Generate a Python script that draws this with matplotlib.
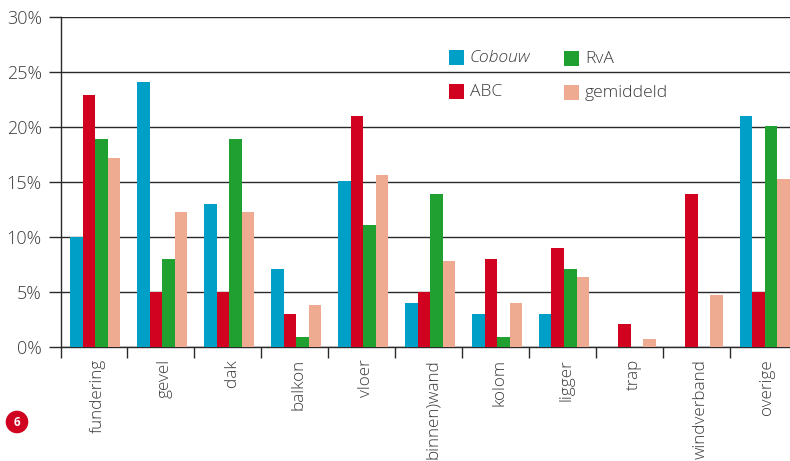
import numpy as np
import matplotlib
matplotlib.use("Agg")
import matplotlib.pyplot as plt
from matplotlib.patches import Circle, Rectangle

plt.rcParams['font.family'] = ['Open Sans', 'DejaVu Sans']

categories = ['fundering', 'gevel', 'dak', 'balkon', 'vloer', 'binnen)wand',
              'kolom', 'ligger', 'trap', 'windverband', 'overige']
cobouw = [10, 24.1, 13, 7.1, 15.1, 4, 3, 3, 0, 0, 21]
abc = [22.9, 5, 5, 3, 21, 5, 8, 9, 2.1, 13.9, 5]
rva = [18.9, 8, 18.9, 0.9, 11.1, 13.9, 0.9, 7.1, 0, 0, 20.1]
gemiddeld = [17.2, 12.3, 12.3, 3.8, 15.6, 7.8, 4, 6.4, 0.7, 4.7, 15.3]
yticks = [0, 5, 10, 15, 20, 25, 30]

series = [cobouw, abc, rva, gemiddeld]
colors = ['#009fc7', '#d0021f', '#20a030', '#efab92']
names = ['Cobouw', 'ABC', 'RvA', 'gemiddeld']
text_col = '#3c3c3c'

W, H = 790, 461
fig = plt.figure(figsize=(W/100, H/100), dpi=100)
# axes box in pixels
left, right, top, bottom = 60.5, 790, 17, 347
ax = fig.add_axes([left/W, 1-bottom/H, (right-left)/W, (bottom-top)/H])

step = 67
x = np.arange(len(categories))
bw = 0.187
for i in range(4):
    ax.bar(x + 0.012 + (i-1.5)*bw, series[i], bw, color=colors[i], zorder=3, linewidth=0)

ax.set_xlim(-0.5, (right-left)/step - 0.5)
ax.set_ylim(0, 30)
ax.set_yticks(yticks)
ax.set_yticklabels([str(v) + '%' for v in yticks], fontsize=13, color=text_col, fontweight='light')
ax.grid(axis='y', color='#2a2a2a', linewidth=1.0, zorder=1)
ax.set_axisbelow(True)
ax.tick_params(axis='y', length=9, width=1, color='#2a2a2a', pad=4.5)

# ticks sit between the groups, names are placed beside the group centres
ax.set_xticks(x - 0.51)
ax.set_xticklabels([])
ax.tick_params(axis='x', length=8, width=1, color='#2a2a2a')
for i, name in enumerate(categories):
    ax.annotate(name, (x[i], 0), xycoords=('data', 'axes fraction'), xytext=(2.5, -8.5),
                textcoords='offset points', rotation=90, ha='center', va='top',
                fontsize=12.3, color=text_col, fontweight='light', annotation_clip=False)

for side in ['top', 'right']:
    ax.spines[side].set_visible(False)
for side in ['left', 'bottom']:
    ax.spines[side].set_color('#2a2a2a')
    ax.spines[side].set_linewidth(1)

# legend drawn by hand in two columns
spots = [(449, 50), (449, 84), (564, 51), (564, 85)]
for i in range(4):
    px, py = spots[i]
    fig.add_artist(Rectangle((px/W, 1-(py+15)/H), 15/W, 15/H, color=colors[i],
                             transform=fig.transFigure, linewidth=0))
    fig.text((px+21)/W, 1-(py+8)/H, names[i], fontsize=12.6, color=text_col, va='center',
             fontweight='light', style='italic' if i == 0 else 'normal')

# numbered badge
badge = Circle((17, H-422), 11.3, color='#d0021f', transform=None, linewidth=0)
fig.add_artist(badge)
fig.text(17/W, 1-422/H, '6', color='white', fontsize=8.5, fontweight='bold',
         ha='center', va='center')

fig.savefig('out.png', dpi=100)
